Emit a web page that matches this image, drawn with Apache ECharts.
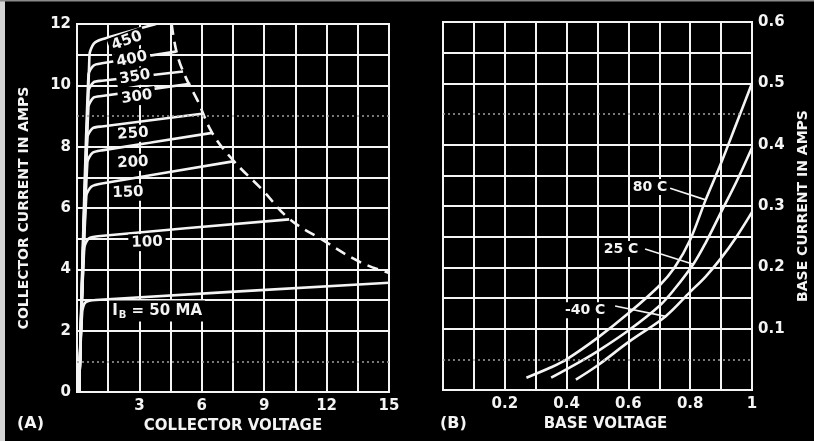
<!DOCTYPE html>
<html>
<head>
<meta charset="utf-8">
<script src="https://cdn.jsdelivr.net/npm/echarts@6/dist/echarts.min.js"></script>
<style>
  html, body { margin: 0; padding: 0; background: #000; }
  #chart { width: 814px; height: 441px; }
</style>
</head>
<body>
<div id="chart"></div>
<script>
// ---------- (A) collector characteristics: collector voltage (V) vs collector current (A)
const collectorTicksX = [3, 6, 9, 12, 15];
const collectorTicksY = [0, 2, 4, 6, 8, 10, 12];
const baseCurrentNames = ['450', '400', '350', '300', '250', '200', '150', '100', '50'];

const ib450 = [[0.1, 0], [0.6, 11.0], [0.8, 11.35], [1.2, 11.5], [3.8, 12.0]];
const ib400 = [[0.1, 0], [0.55, 10.35], [0.8, 10.65], [1.2, 10.72], [4.75, 11.1]];
const ib350 = [[0.1, 0], [0.55, 9.8], [0.8, 10.1], [1.2, 10.15], [5.1, 10.45]];
const ib300 = [[0.1, 0], [0.55, 9.3], [0.8, 9.6], [1.2, 9.65], [5.45, 10.05]];
const ib250 = [[0.1, 0], [0.5, 8.3], [0.75, 8.6], [1.2, 8.66], [6.1, 9.08]];
const ib200 = [[0.1, 0], [0.5, 7.5], [0.75, 7.8], [1.2, 7.88], [6.5, 8.45]];
const ib150 = [[0.1, 0], [0.45, 6.4], [0.7, 6.7], [1.2, 6.8], [7.5, 7.52]];
const ib100 = [[0.1, 0], [0.35, 4.7], [0.55, 5.0], [1.0, 5.08], [10.2, 5.63]];
const ib50  = [[0.1, 0], [0.25, 2.6], [0.4, 2.92], [0.9, 3.0], [15, 3.56]];

// maximum dissipation boundary
const dissipationLimit = [[4.55, 12], [4.8, 11.05], [5.2, 10.3], [5.8, 9.5], [6.5, 8.45],
  [7.5, 7.56], [8.9, 6.6], [10.2, 5.65], [11.8, 4.96], [13.6, 4.24], [15, 3.88]];

// ---------- (B) base characteristics: base voltage (V) vs base current (A)
const baseTicksX = ['0.2', '0.4', '0.6', '0.8', '1'];
const baseTicksY = ['0.1', '0.2', '0.3', '0.4', '0.5', '0.6'];
const temperatureNames = ['80 C', '25 C', '-40 C'];

const t80 = [[0.27, 0.02], [0.35, 0.037], [0.4, 0.05], [0.5, 0.085], [0.6, 0.125], [0.7, 0.17],
  [0.75, 0.2], [0.8, 0.245], [0.85, 0.31], [0.9, 0.37], [0.95, 0.435], [1.0, 0.5]];
const t25 = [[0.35, 0.02], [0.45, 0.048], [0.5, 0.063], [0.6, 0.097], [0.7, 0.137], [0.75, 0.165],
  [0.81, 0.205], [0.85, 0.24], [0.9, 0.29], [0.95, 0.34], [1.0, 0.395]];
const tm40 = [[0.43, 0.017], [0.5, 0.04], [0.6, 0.078], [0.72, 0.12], [0.8, 0.16], [0.85, 0.185],
  [0.9, 0.215], [0.95, 0.25], [1.0, 0.29]];

// ---------- layout helpers (label anchors in axis units, rotation in degrees)
const collectorLabelSpots = [
  [2.4, 11.45, 20], [2.64, 10.85, 12], [2.79, 10.27, 10], [2.88, 9.62, 8],
  [2.69, 8.42, 4], [2.69, 7.48, 3], [2.45, 6.5, 2], [3.37, 4.88, 2], [3.85, 2.64, 0]
];
// [text anchor, leader start, index of point on curve the arrow reaches]
const temperatureLabelSpots = [
  [[0.67, 0.331], [0.735, 0.329], 8],
  [[0.576, 0.23], [0.654, 0.23], 6],
  [[0.46, 0.13], [0.557, 0.137], 3]
];

const ink = '#f4f4f4';
const font = "'DejaVu Sans', 'Liberation Sans', sans-serif";
const textBase = { color: ink, fontFamily: font, fontWeight: 'bold', opacity: 1 };

function near(v, list) {
  const s = String(Number(v.toFixed(3)));
  return list.map(String).indexOf(s) >= 0 ? s : '';
}
function splitColors(count, dimIdx) {
  const arr = [];
  for (let i = 0; i < count; i++) arr.push(dimIdx.indexOf(i) >= 0 ? 'rgba(0,0,0,0)' : ink);
  return arr;
}

const collectorCurves = [ib450, ib400, ib350, ib300, ib250, ib200, ib150, ib100, ib50];
const tempCurves = [t80, t25, tm40];

const series = [];
collectorCurves.forEach((d, k) => {
  series.push({
    type: 'line', name: 'IB ' + baseCurrentNames[k], data: d, xAxisIndex: 0, yAxisIndex: 0,
    showSymbol: false, smooth: 0.25, silent: true, z: 3,
    lineStyle: { color: ink, width: 2.6 }
  });
});
series.push({
  type: 'line', name: 'limit', data: dissipationLimit, xAxisIndex: 0, yAxisIndex: 0,
  showSymbol: false, smooth: 0.4, silent: true, z: 3,
  lineStyle: { color: ink, width: 2.6, type: [11, 7] },
  markLine: {
    silent: true, symbol: 'none', label: { show: false },
    lineStyle: { color: '#a0a0a0', width: 1.5, type: [2, 3] },
    data: [{ yAxis: 1 }, { yAxis: 9 }]
  }
});
// curve labels of panel A
series.push({
  type: 'scatter', xAxisIndex: 0, yAxisIndex: 0, symbolSize: 0, silent: true, z: 6,
  itemStyle: { opacity: 1, color: ink },
  data: collectorLabelSpots.map((p, k) => ({
    value: [p[0], p[1]],
    label: {
      show: true, position: 'inside', rotate: p[2],
      formatter: k === baseCurrentNames.length - 1 ? '{t|I}{s|B}{t| = 50 MA}' : baseCurrentNames[k],
      backgroundColor: '#000', padding: [1, 3, 1, 3],
      ...textBase, fontSize: 15,
      rich: {
        t: { ...textBase, fontSize: 15 },
        s: { ...textBase, fontSize: 10, padding: [9, 0, 0, 1] }
      }
    }
  }))
});

tempCurves.forEach((d, k) => {
  const spot = temperatureLabelSpots[k];
  series.push({
    type: 'line', name: temperatureNames[k], data: d, xAxisIndex: 1, yAxisIndex: 1,
    showSymbol: false, smooth: 0.35, silent: true, z: 3,
    lineStyle: { color: ink, width: 2.6 },
    markLine: {
      silent: true, symbol: ['none', 'triangle'], symbolSize: [0, 7],
      label: { show: false },
      lineStyle: { color: ink, width: 1.6, type: 'solid' },
      data: [[{ coord: spot[1] }, { coord: d[spot[2]] }]]
    }
  });
});
series.push({
  type: 'line', name: 'dots', data: [], xAxisIndex: 1, yAxisIndex: 1, silent: true,
  markLine: {
    silent: true, symbol: 'none', label: { show: false },
    lineStyle: { color: '#a0a0a0', width: 1.5, type: [2, 3] },
    data: [{ yAxis: 0.05 }, { yAxis: 0.45 }]
  }
});
series.push({
  type: 'scatter', xAxisIndex: 1, yAxisIndex: 1, symbolSize: 0, silent: true, z: 6,
  itemStyle: { opacity: 1, color: ink },
  data: temperatureLabelSpots.map((s, k) => ({
    value: s[0],
    label: {
      show: true, position: 'inside', formatter: temperatureNames[k],
      backgroundColor: '#000', padding: [1, 2, 1, 2], ...textBase, fontSize: 14
    }
  }))
});

const option = {
  backgroundColor: '#000',
  animation: false,
  grid: [
    { left: 77, top: 24, width: 312, height: 368, show: true, borderColor: ink, borderWidth: 2, outerBoundsMode: 'none' },
    { left: 443, top: 22, width: 309, height: 368, show: true, borderColor: ink, borderWidth: 2, outerBoundsMode: 'none' }
  ],
  xAxis: [
    {
      type: 'value', gridIndex: 0, min: 0, max: 15, interval: 1.5,
      axisLine: { show: false }, axisTick: { show: false },
      splitLine: { show: true, lineStyle: { color: ink, width: 2 } },
      axisLabel: { ...textBase, fontSize: 15, margin: 7, formatter: v => near(v, collectorTicksX) },
      name: 'COLLECTOR VOLTAGE', nameLocation: 'middle', nameGap: 25,
      nameTextStyle: { ...textBase, fontSize: 15 }
    },
    {
      type: 'value', gridIndex: 1, min: 0, max: 1, interval: 0.1,
      axisLine: { show: false }, axisTick: { show: false },
      splitLine: { show: true, lineStyle: { color: ink, width: 2 } },
      axisLabel: { ...textBase, fontSize: 15, margin: 7, formatter: v => near(v, baseTicksX) },
      name: 'BASE VOLTAGE', nameLocation: 'middle', nameGap: 25,
      nameTextStyle: { ...textBase, fontSize: 15, padding: [0, 0, 0, 16] }
    }
  ],
  yAxis: [
    {
      type: 'value', gridIndex: 0, min: 0, max: 12, interval: 1,
      axisLine: { show: false }, axisTick: { show: false },
      splitLine: { show: true, lineStyle: { color: splitColors(13, [1, 9]), width: 2 } },
      axisLabel: { ...textBase, fontSize: 15, margin: 6, formatter: v => near(v, collectorTicksY) },
      name: 'COLLECTOR CURRENT IN AMPS', nameLocation: 'middle', nameRotate: 90, nameGap: 46,
      nameTextStyle: { ...textBase, fontSize: 14 }
    },
    {
      type: 'value', gridIndex: 1, position: 'right', min: 0, max: 0.6, interval: 0.05,
      axisLine: { show: false }, axisTick: { show: false },
      splitLine: { show: true, lineStyle: { color: splitColors(13, [1, 9]), width: 2 } },
      axisLabel: { ...textBase, fontSize: 15, margin: 6, formatter: v => near(v, baseTicksY) },
      name: 'BASE CURRENT IN AMPS', nameLocation: 'middle', nameRotate: 90, nameGap: 44,
      nameTextStyle: { ...textBase, fontSize: 14 }
    }
  ],
  graphic: [
    { type: 'rect', left: 0, top: 0, shape: { width: 5, height: 441 }, style: { fill: '#d4d4d4' }, silent: true },
    { type: 'rect', left: 0, top: 0, shape: { width: 814, height: 1.5 }, style: { fill: '#8a8a8a' }, silent: true },
    { type: 'text', left: 17, top: 416, style: { text: '(A)', fill: ink, font: 'bold 16px ' + font } },
    { type: 'text', left: 440, top: 416, style: { text: '(B)', fill: ink, font: 'bold 16px ' + font } }
  ],
  series: series
};

const chart = echarts.init(document.getElementById('chart'), null, { renderer: 'canvas' });
chart.setOption(option);
</script>
</body>
</html>
